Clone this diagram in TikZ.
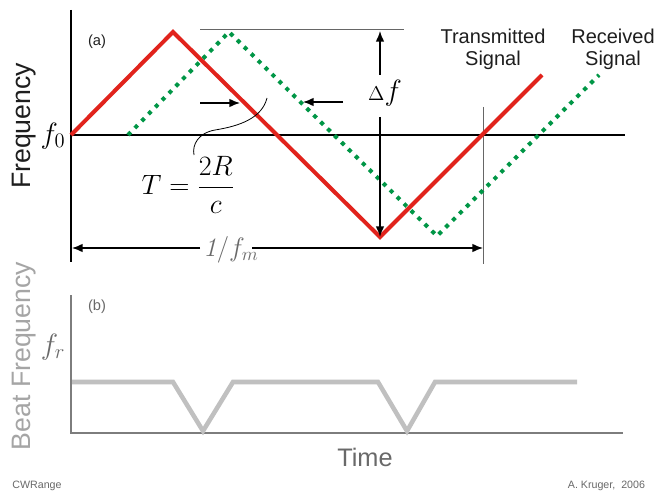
\RequirePackage{fix-cm}
\documentclass[tikz,border=0pt]{standalone}
\usepackage{fontspec}
\newfontfamily\arial{Liberation Sans}
\usetikzlibrary{arrows.meta}
\definecolor{sigred}{RGB}{225,35,28}
\definecolor{siggreen}{RGB}{0,150,70}
\definecolor{beatgray}{RGB}{192,192,192}
\definecolor{axgray}{RGB}{125,125,125}
\definecolor{lblgray}{RGB}{105,105,105}
\definecolor{ltgray}{RGB}{165,165,165}
\definecolor{txtdark}{RGB}{30,30,30}
\begin{document}
\begin{tikzpicture}[x=0.75pt,y=-0.75pt,
  tx/.style={inner sep=0pt,outer sep=0pt},
  sans/.style={tx,font=\arial},
  axisline/.style={line width=2.2pt,black},
  transm/.style={line width=3pt,sigred,line join=miter},
  recv/.style={line width=3pt,siggreen,dash pattern=on 3pt off 4.3pt},
  dimarrow/.style={line width=1.1pt,black,-{Latex[length=8pt,width=6.5pt]}},
  thinline/.style={line width=0.7pt,black!60},
  baxis/.style={line width=2.2pt,axgray},
  beat/.style={line width=3.4pt,beatgray,line join=miter}
]
\useasboundingbox[fill=white] (0,0) rectangle (657,492);

% ---------- panel (a) ----------
\coordinate (atop) at (71,10);
\coordinate (abot) at (71,262);
\coordinate (f0l) at (71,135);
\coordinate (f0r) at (625,135);
\draw[axisline] (atop) -- (abot);
\draw[axisline] (f0l) -- (f0r);

% top reference line and period marker line
\coordinate (reftl) at (200,29);
\coordinate (reftr) at (404,29);
\draw[thinline] (reftl) -- (reftr);
\coordinate (pmt) at (483,107);
\coordinate (pmb) at (483,264);
\draw[thinline] (pmt) -- (pmb);

% signals
\coordinate (t0) at (71,135);
\coordinate (t1) at (173,32);
\coordinate (t2) at (380,237);
\coordinate (t3) at (542,75);
\draw[transm] (t0) -- (t1) -- (t2) -- (t3);
\coordinate (r0) at (128,135);
\coordinate (r1) at (229,32);
\coordinate (r2) at (437,236);
\coordinate (r3) at (599,75);
\draw[recv] (r0) -- (r1) -- (r2) -- (r3);

% delay arrows
\coordinate (da1) at (200,103);
\coordinate (da2) at (240,103);
\draw[dimarrow] (da1) -- (da2);
\coordinate (db1) at (343,102);
\coordinate (db2) at (303,102);
\draw[dimarrow] (db1) -- (db2);

% Delta f
\node[tx] (df) at (385,93) {{\fontsize{15}{18}\selectfont$\Delta$}{\fontsize{22}{24}\selectfont$f$}};
\coordinate (dfu) at (380,75);
\coordinate (dft) at (380,31);
\coordinate (dfl) at (380,117);
\coordinate (dfb) at (380,237);
\draw[dimarrow] (dfu) -- (dft);
\draw[dimarrow] (dfl) -- (dfb);

% period arrow
\node[tx,text=lblgray] (fm) at (231,250) {\fontsize{20}{24}\selectfont$\mathit{1}/f_m$};
\coordinate (pl) at (200,248);
\coordinate (pl0) at (72,248);
\coordinate (pr) at (252,248);
\coordinate (pr0) at (483,248);
\draw[dimarrow] (pl) -- (pl0);
\draw[dimarrow] (pr) -- (pr0);

% T equation and leader
\node[tx] (teq) at (188,185) {\fontsize{21}{25}\selectfont$T=\displaystyle\frac{2R}{c}$};
\coordinate (ld1) at (267,98);
\coordinate (ld2) at (215,130);
\coordinate (ld3) at (194,155);
\draw[line width=0.6pt,black] (ld1) .. controls (262,118) and (240,126) .. (ld2)
   .. controls (198,133) and (192,145) .. (ld3);

% labels
\node[tx] (f0) at (53,136) {\fontsize{22}{26}\selectfont$f_0$};
\node[sans,rotate=90,text=txtdark,font=\arial\fontsize{20}{24}\selectfont] (freq) at (24,126) {Frequency};
\node[sans,text=txtdark,font=\arial\fontsize{11}{13}\selectfont] (la) at (97,42) {(a)};
\node[sans,align=center,text=txtdark,font=\arial\fontsize{15}{16.5}\selectfont] (tlab) at (493,49) {Transmitted\\Signal};
\node[sans,align=center,text=txtdark,font=\arial\fontsize{15}{16.5}\selectfont] (rlab) at (613,49) {Received\\Signal};

% ---------- panel (b) ----------
\coordinate (btop) at (71,295);
\coordinate (bor) at (71,433);
\coordinate (bend) at (623,433);
\draw[baxis] (btop) -- (bor) -- (bend);
\coordinate (b0) at (72,382);
\coordinate (b1) at (173,382);
\coordinate (b2) at (203,431);
\coordinate (b3) at (233,382);
\coordinate (b4) at (378,382);
\coordinate (b5) at (407,431);
\coordinate (b6) at (435,382);
\coordinate (b7) at (577,382);
\draw[beat] (b0) -- (b1) -- (b2) -- (b3) -- (b4) -- (b5) -- (b6) -- (b7);

\node[sans,text=lblgray,font=\arial\fontsize{11}{13}\selectfont] (lb) at (97,307) {(b)};
\node[tx,text=lblgray] (fr) at (53,347) {\fontsize{22}{26}\selectfont$f_r$};
\node[sans,rotate=90,text=ltgray,font=\arial\fontsize{20}{24}\selectfont] (beatf) at (24,356) {Beat Frequency};
\node[sans,text=lblgray,font=\arial\fontsize{19}{22}\selectfont] (time) at (365,457) {Time};
\node[sans,text=lblgray,font=\arial\fontsize{8}{10}\selectfont] (cw) at (37,486) {CWRange};
\node[sans,text=lblgray,anchor=east,font=\arial\fontsize{8}{10}\selectfont] (ak) at (645,486) {A. Kruger,\ \ 2006};
\end{tikzpicture}
\end{document}
